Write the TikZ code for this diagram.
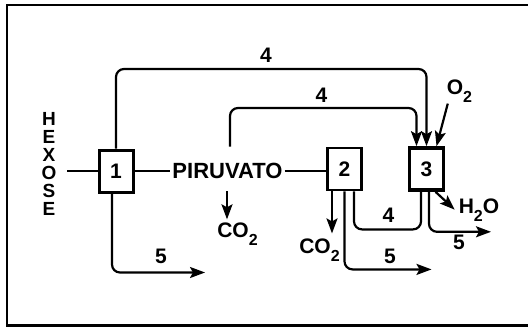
\documentclass[tikz,border=0pt]{standalone}
\usepackage{fontspec}
\setmainfont{Liberation Sans}
\usetikzlibrary{arrows.meta}

\newcommand{\chemsub}[1]{\raisebox{-8pt}{\fontsize{16}{16}\selectfont #1}}

\begin{document}
\begin{tikzpicture}[x=1pt, y=-1pt, line width=2.2pt,
    font=\fontsize{21}{21}\selectfont\bfseries,
    enzbox/.style={draw, line width=3pt, minimum width=34pt, minimum height=42pt, inner sep=0pt},
    lbl/.style={inner sep=0pt, anchor=base},
    arr/.style={-{Stealth[length=15pt, width=11pt, inset=3pt]}},
    flow/.style={rounded corners=8pt},]

    \useasboundingbox (0,0) rectangle (528,327);

    % Frame (open on the right)
    \draw[line width=2.4pt] (528,5) -- (7,5) -- (7,325.5) -- (528,325.5);

    % Define the steps
    \node[enzbox] (b1) at (116,171) {1};
    \node[enzbox, line width=2.8pt] (b2) at (344.5,169) {2};
    \node[enzbox, line width=3.6pt] (b3) at (426.5,169) {3};

    % Substances
    \node[align=center, inner sep=0pt, font=\fontsize{19}{18}\selectfont\bfseries] (hexose) at (49,163.5) {H\\E\\X\\O\\S\\E};
    \node[lbl, inner sep=1pt, font=\fontsize{22}{22}\selectfont\bfseries] (piruvato) at (227.5,178) {PIRUVATO};
    \node[lbl] (co2a) at (237.5,237) {CO\chemsub{2}};
    \node[lbl] (co2b) at (319.5,253) {CO\chemsub{2}};
    \node[lbl] (o2) at (459.5,94.5) {O\chemsub{2}};
    \node[lbl] (h2o) at (479,213) {H\chemsub{2}O};

    % Free ends next to PIRUVATO
    \coordinate (pyrup) at ([xshift=2.5pt, yshift=14pt]piruvato.north);
    \coordinate (pyrdn) at ([xshift=-0.5pt, yshift=-11pt]piruvato.south);
    \coordinate (top) at (0,69);
    \coordinate (mid) at (0,108);

    % Main chain
    \draw ([xshift=10pt]hexose.east |- b1.west) -- (b1.west);
    \draw (b1.east) -- (piruvato.west |- b1.east);
    \draw (piruvato.east |- b1.east) -- (b2.west |- b1.east);

    % Pathways 4
    \draw[arr, flow] (b1.north) -- (b1.north |- top) -| (b3.north);
    \draw[arr, flow] (pyrup) -- (pyrup |- mid) -| ([xshift=-10pt]b3.north);
    \draw[flow] ([xshift=9.5pt]b2.south) -- ++(0,38) -| ([xshift=-5.5pt]b3.south);

    % Pathways 5
    \draw[arr, flow] ([xshift=-4pt]b1.south) |- ++(93,79);
    \draw[arr, flow] (b2.south) |- ++(87,78);
    \draw[arr, flow] ([xshift=2.5pt]b3.south) |- ++(62,40);

    % Gases
    \draw[arr] (pyrdn) -- ++(0,28);
    \draw[arr] ([xshift=-12.5pt]b2.south) -- ++(0,42);
    \draw[arr] ([xshift=2pt]o2.south west) -- ([xshift=10pt]b3.north);
    \draw[arr] ([xshift=9pt]b3.south) -- ([xshift=-3pt]h2o.west);

    % Labels for the pathways
    \node[lbl] (l4a) at (266,62) {4};
    \node[lbl] (l4b) at (321.5,102) {4};
    \node[lbl] (l4c) at (388.5,222) {4};
    \node[lbl] (l5a) at (161,263) {5};
    \node[lbl] (l5b) at (390,263) {5};
    \node[lbl] (l5c) at (459,249) {5};

\end{tikzpicture}
\end{document}
